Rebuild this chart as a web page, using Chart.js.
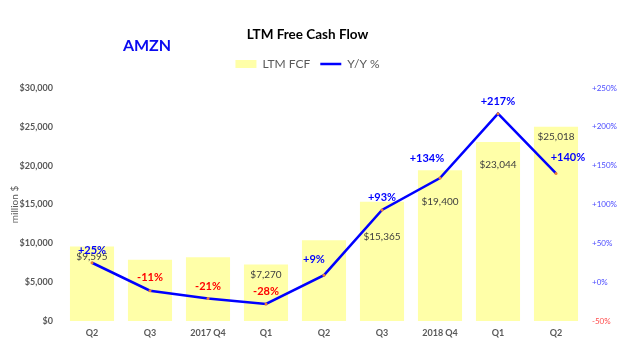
<!DOCTYPE html>
<html><head><meta charset="utf-8">
<script src="https://cdn.jsdelivr.net/npm/chart.js@4/dist/chart.umd.min.js"></script>
<style>html,body{margin:0;padding:0;background:#fff;}canvas{display:block;}</style>
</head><body>
<canvas id="c" width="641" height="357"></canvas>
<script>
const categories = ["Q2", "Q3", "2017 Q4", "Q1", "Q2", "Q3", "2018 Q4", "Q1", "Q2"];
const fcfValues = [9595, 7900, 8200, 7270, 10400, 15365, 19400, 23044, 25018];
const yoyValues = [25, -11, -21, -28, 9, 93, 134, 217, 140];
const fcfLabelShown = [true, false, false, true, false, true, true, true, true];
const leftTicks = [0, 5000, 10000, 15000, 20000, 25000, 30000];
const rightTicks = [-50, 0, 50, 100, 150, 200, 250];

// label placement (style, not data)
const barLabelDy = [10, 0, 0, 10, 0, 35, 31, 23, 10];
const lineLabelOff = [[0,-12],[0,-13],[0,-12],[0,-12],[-10,-16],[0,-12],[-13,-20],[0,-12],[12,-16]];

const FONT = "Lato, 'Open Sans', sans-serif";

const labelPlugin = {
  id: 'valueLabels',
  afterLayout(chart) {
    // header block in the reference sits slightly left of the canvas centre
    const shift = 13;
    [chart.titleBlock, chart.legend].forEach(b => {
      if (b) { b.left -= shift; b.right -= shift; }
    });
  },
  afterDatasetsDraw(chart) {
    const ctx = chart.ctx;
    ctx.save();
    ctx.textAlign = 'center';
    ctx.textBaseline = 'middle';
    const barMeta = chart.getDatasetMeta(0);
    ctx.font = "10px " + FONT;
    ctx.fillStyle = '#404040';
    barMeta.data.forEach((el, i) => {
      if (!fcfLabelShown[i]) return;
      ctx.fillText('$' + fcfValues[i].toLocaleString('en-US'), el.x, el.y + barLabelDy[i]);
    });
    const lineMeta = chart.getDatasetMeta(1);
    ctx.font = "bold 11px " + FONT;
    lineMeta.data.forEach((el, i) => {
      const v = yoyValues[i];
      ctx.fillStyle = v < 0 ? '#FF0000' : '#0000FF';
      ctx.fillText((v > 0 ? '+' : '') + v + '%', el.x + lineLabelOff[i][0], el.y + lineLabelOff[i][1]);
    });
    ctx.restore();
  },
  afterDraw(chart) {
    const ctx = chart.ctx;
    ctx.save();
    ctx.font = "bold 16px " + FONT;
    ctx.fillStyle = '#0A0AF0';
    ctx.textAlign = 'center';
    ctx.textBaseline = 'middle';
    ctx.fillText('AMZN', 147, 46);
    ctx.restore();
  }
};

new Chart(document.getElementById('c'), {
  data: {
    labels: categories,
    datasets: [
      {
        type: 'bar',
        label: 'LTM FCF',
        data: fcfValues,
        backgroundColor: '#FFFFA8',
        borderWidth: 0,
        categoryPercentage: 1.0,
        barPercentage: 0.76,
        yAxisID: 'y',
        order: 2
      },
      {
        type: 'line',
        label: 'Y/Y %',
        data: yoyValues,
        borderColor: '#0000FF',
        backgroundColor: '#ED7D31',
        borderWidth: 2.5,
        pointRadius: 1.5,
        pointBorderWidth: 0,
        pointBackgroundColor: '#ED7D31',
        tension: 0,
        yAxisID: 'y1',
        order: 1
      }
    ]
  },
  options: {
    responsive: false,
    animation: false,
    devicePixelRatio: 1,
    layout: { padding: 0 },
    plugins: {
      tooltip: { enabled: false },
      title: {
        display: true,
        text: 'LTM Free Cash Flow',
        color: '#000000',
        font: { family: FONT, size: 13.5, weight: 'bold' },
        padding: { top: 26.9, bottom: 4.9 }
      },
      subtitle: {
        display: true,
        text: ' ',
        weight: 500,
        font: { size: 1 },
        padding: { top: 0, bottom: 6.8 }
      },
      legend: {
        display: true,
        position: 'top',
        labels: {
          color: '#595959',
          font: { family: FONT, size: 12 },
          usePointStyle: true,
          pointStyleWidth: 21,
          boxHeight: 8,
          padding: 10,
          generateLabels(chart) {
            return [
              { text: 'LTM FCF', fillStyle: '#FFFFA8', strokeStyle: '#FFFFA8', lineWidth: 0, pointStyle: 'rect', datasetIndex: 0, fontColor: '#595959' },
              { text: 'Y/Y %', fillStyle: '#0000FF', strokeStyle: '#0000FF', lineWidth: 2.5, pointStyle: 'line', datasetIndex: 1, fontColor: '#595959' }
            ];
          }
        }
      }
    },
    scales: {
      x: {
        grid: { display: false, drawTicks: false },
        border: { display: false },
        ticks: { color: '#595959', font: { family: FONT, size: 9, weight: 'bold' }, padding: 7, maxRotation: 0, autoSkip: false },
        afterFit(s) { s.height = 36; }
      },
      y: {
        position: 'left',
        min: 0, max: 30000,
        grid: { display: false, drawTicks: false },
        border: { display: false },
        afterBuildTicks(s) { s.ticks = leftTicks.map(v => ({ value: v })); },
        ticks: {
          color: '#595959',
          font: { family: FONT, size: 9, weight: 'bold' },
          padding: 10,
          callback: v => '$' + Number(v).toLocaleString('en-US')
        },
        title: { display: true, text: 'million $', color: '#595959', font: { family: FONT, size: 10 }, padding: { top: 9, bottom: 0 } },
        afterFit(s) { s.width = 63; }
      },
      y1: {
        position: 'right',
        min: -50, max: 250,
        grid: { display: false, drawTicks: false },
        border: { display: false },
        afterBuildTicks(s) { s.ticks = rightTicks.map(v => ({ value: v })); },
        ticks: {
          color: c => (c.tick && c.tick.value < 0) ? '#FF4B4B' : '#4B4BFF',
          font: { family: FONT, size: 8 },
          padding: 7,
          callback: v => (v >= 0 ? '+' : '') + v + '%'
        },
        afterFit(s) { s.width = 56; }
      }
    }
  },
  plugins: [labelPlugin]
});
</script>
</body></html>
